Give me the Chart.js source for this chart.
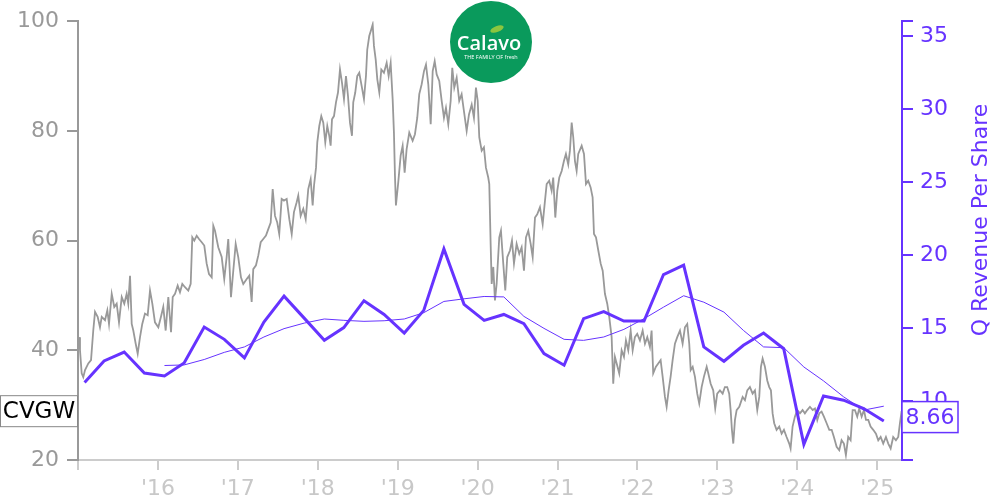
<!DOCTYPE html>
<html>
<head>
<meta charset="utf-8">
<title>CVGW</title>
<script src="https://cdn.jsdelivr.net/npm/chart.js@4.4.1/dist/chart.umd.min.js"></script>
<style>
  html, body { margin: 0; padding: 0; background: #fff; }
  #wrap { width: 1000px; height: 500px; }
</style>
</head>
<body>
<div id="wrap"><canvas id="chart" width="1000" height="500"></canvas></div>
<script>
// data
var ticker = 'CVGW';
var rightTitle = 'Q Revenue Per Share';
var lastRevLabel = '8.66';

var yearTicks = [2015, 2016, 2017, 2018, 2019, 2020, 2021, 2022, 2023, 2024, 2025];
var yearLabels = ['', "'16", "'17", "'18", "'19", "'20", "'21", "'22", "'23", "'24", "'25"];
var priceTicks = [20, 40, 60, 80, 100];
var revTicks = [6, 10, 15, 20, 25, 30, 35, 36];

// daily close, sampled (decimal year)
var priceDates = [
  2015.013,2015.025,2015.046,2015.066,2015.088,2015.129,2015.163,2015.191,2015.213,2015.246,2015.275,2015.297,2015.338,2015.367,2015.388,2015.422,2015.454,2015.484,2015.513,2015.547,2015.579,2015.609,2015.629,2015.651,2015.672,2015.692,2015.722,2015.747,2015.776,2015.804,2015.838,2015.872,2015.901,2015.930,2015.963,
  2016.005,2016.038,2016.067,2016.097,2016.130,2016.164,2016.185,2016.214,2016.247,2016.276,2016.305,2016.339,2016.380,2016.410,2016.430,2016.455,2016.485,2016.514,2016.548,2016.580,2016.610,2016.639,2016.673,2016.693,2016.714,2016.755,2016.798,2016.830,2016.860,2016.880,2016.914,2016.943,2016.973,
  2017.005,2017.039,2017.068,2017.111,2017.143,2017.173,2017.193,2017.227,2017.256,2017.286,2017.318,2017.352,2017.381,2017.411,2017.436,2017.465,2017.493,2017.518,2017.548,2017.577,2017.611,2017.644,2017.674,2017.702,2017.736,2017.756,2017.786,2017.819,2017.849,2017.881,2017.911,2017.936,2017.953,2017.978,2017.994,
  2018.019,2018.044,2018.069,2018.094,2018.119,2018.144,2018.161,2018.178,2018.203,2018.228,2018.253,2018.278,2018.303,2018.328,2018.353,2018.378,2018.403,2018.428,2018.444,2018.469,2018.494,2018.519,2018.549,2018.578,2018.603,2018.619,2018.644,2018.669,2018.687,2018.703,2018.725,2018.745,2018.770,2018.795,2018.828,2018.862,2018.887,2018.912,2018.937,2018.953,2018.966,2018.978,
  2019.007,2019.037,2019.062,2019.087,2019.112,2019.145,2019.187,2019.216,2019.245,2019.270,2019.300,2019.329,2019.354,2019.383,2019.413,2019.438,2019.463,2019.488,2019.520,2019.550,2019.579,2019.604,2019.633,2019.663,2019.683,2019.708,2019.738,2019.770,2019.800,2019.829,2019.863,2019.892,2019.926,2019.954,2019.979,
  2020.001,2020.021,2020.051,2020.079,2020.104,2020.133,2020.146,2020.163,2020.176,2020.196,2020.217,2020.238,2020.271,2020.292,2020.321,2020.346,2020.371,2020.405,2020.430,2020.455,2020.488,2020.521,2020.551,2020.580,2020.605,2020.634,2020.664,2020.689,2020.718,2020.746,2020.780,2020.814,2020.843,2020.864,2020.896,2020.926,2020.946,2020.972,2020.997,
  2021.022,2021.052,2021.080,2021.105,2021.134,2021.155,2021.177,2021.197,2021.218,2021.239,2021.259,2021.302,2021.331,2021.356,2021.384,2021.414,2021.439,2021.456,2021.481,2021.510,2021.540,2021.565,2021.593,2021.622,2021.647,2021.677,2021.697,2021.718,2021.740,2021.772,2021.802,2021.831,2021.856,2021.885,2021.915,2021.940,2021.968,2021.997,
  2022.031,2022.065,2022.094,2022.123,2022.156,2022.177,2022.197,2022.231,2022.260,2022.290,2022.315,2022.344,2022.365,2022.390,2022.415,2022.440,2022.469,2022.498,2022.532,2022.565,2022.594,2022.623,2022.648,2022.666,2022.691,2022.719,2022.748,2022.773,2022.803,2022.832,2022.866,2022.886,2022.916,2022.948,2022.973,2022.998,
  2023.032,2023.066,2023.094,2023.123,2023.148,2023.166,2023.182,2023.199,2023.220,2023.241,2023.274,2023.316,2023.345,2023.374,2023.407,2023.441,2023.470,2023.499,2023.524,2023.545,2023.566,2023.595,2023.624,2023.649,2023.670,2023.691,2023.711,2023.741,2023.774,2023.804,2023.833,2023.866,2023.899,2023.916,2023.941,2023.970,2023.999,
  2024.033,2024.066,2024.095,2024.124,2024.158,2024.192,2024.221,2024.250,2024.275,2024.304,2024.333,2024.367,2024.400,2024.430,2024.458,2024.492,2024.525,2024.554,2024.583,2024.608,2024.637,2024.667,2024.692,2024.721,2024.750,2024.775,2024.805,2024.834,2024.859,2024.888,2024.917,2024.950,2024.984,
  2025.013,2025.043,2025.075,2025.109,2025.138,2025.168,2025.200,2025.234,2025.263,2025.284,2025.305
];
var prices = [
  42.4,40.0,35.8,35.1,36.4,37.6,38.2,43.6,47.0,46.1,44.2,46.1,45.5,47.3,44.8,50.3,47.9,48.5,45.1,49.7,48.5,50.3,48.5,53.6,44.8,43.6,41.2,39.4,42.4,44.8,46.7,46.4,50.9,48.5,45.1,
  44.2,46.1,47.9,43.6,49.7,43.3,49.7,50.3,51.8,50.6,52.1,51.5,50.9,52.1,60.6,60.0,60.9,60.3,59.7,59.1,55.8,53.9,53.3,62.7,61.8,58.8,57.0,53.0,57.0,60.3,49.7,54.5,59.4,
  57.0,53.3,52.1,53.0,53.6,48.8,54.8,55.5,57.3,59.7,60.3,60.9,62.1,63.3,69.4,64.5,63.3,61.2,67.6,67.3,67.6,63.9,61.2,65.2,67.0,68.2,64.5,65.8,63.9,69.4,71.2,66.4,70.0,73.3,77.9,
  80.9,82.7,81.5,77.9,80.9,79.1,77.3,82.1,82.7,85.2,87.0,91.2,88.8,85.8,90.0,86.4,81.5,79.1,85.2,87.0,90.0,90.6,88.2,85.8,90.0,94.8,97.3,98.5,99.4,95.5,93.0,89.4,87.0,91.2,90.6,92.4,90.0,92.4,85.8,79.7,71.8,66.4,
  70.6,75.5,77.3,72.4,76.7,79.7,78.2,79.4,82.4,86.7,88.5,90.9,92.1,88.5,81.2,90.9,92.7,90.3,89.1,85.5,82.4,84.2,81.2,85.5,91.5,87.9,89.7,85.5,86.7,83.6,80.0,83.0,84.8,82.4,87.9,
  85.5,78.8,76.4,77.0,73.3,71.5,70.3,59.4,52.1,55.2,49.1,52.1,60.6,61.8,55.8,50.9,57.0,58.2,60.0,55.8,59.4,57.6,58.8,54.5,60.6,61.8,59.4,57.0,64.2,64.8,66.1,63.0,67.3,70.3,70.9,69.1,71.5,64.2,69.1,
  71.5,72.7,74.5,75.8,73.9,76.4,81.5,78.8,74.5,72.7,75.8,77.3,75.8,70.3,70.9,69.7,67.9,61.2,60.6,58.2,55.8,54.5,50.3,48.5,46.1,42.4,33.9,38.8,37.6,35.8,40.0,38.8,41.8,40.0,43.6,40.0,42.4,43.0,
  41.8,43.6,41.2,42.4,40.6,43.6,35.8,37.0,37.6,38.2,35.2,31.5,29.7,32.7,35.2,38.2,41.2,42.4,43.6,41.2,44.2,44.8,41.2,36.4,37.0,35.2,32.1,30.3,33.3,35.2,37.0,35.8,33.9,32.7,29.4,32.1,
  32.7,32.1,33.3,33.3,32.1,29.1,25.5,23.0,27.3,29.1,29.7,31.5,30.9,32.7,33.3,32.1,32.7,29.1,31.5,37.0,38.5,37.0,34.5,33.3,32.7,28.5,26.7,25.5,26.1,24.8,25.5,24.2,23.0,22.1,26.1,27.9,29.1,
  28.5,29.1,28.5,29.1,29.7,29.1,29.4,27.3,28.5,28.8,27.9,26.7,25.5,25.5,24.2,22.4,21.8,23.6,23.0,20.9,24.2,23.6,29.1,29.1,27.9,29.4,27.9,29.1,27.3,27.3,26.1,25.5,24.8,
  23.6,24.2,23.0,24.2,23.0,22.1,24.2,23.6,24.2,26.7,28.9
];

// fiscal quarter ends
var quarterDates = [
  '2015-01-31','2015-04-30','2015-07-31','2015-10-31',
  '2016-01-31','2016-04-30','2016-07-31','2016-10-31',
  '2017-01-31','2017-04-30','2017-07-31','2017-10-31',
  '2018-01-31','2018-04-30','2018-07-31','2018-10-31',
  '2019-01-31','2019-04-30','2019-07-31','2019-10-31',
  '2020-01-31','2020-04-30','2020-07-31','2020-10-31',
  '2021-01-31','2021-04-30','2021-07-31','2021-10-31',
  '2022-01-31','2022-04-30','2022-07-31','2022-10-31',
  '2023-01-31','2023-04-30','2023-07-31','2023-10-31',
  '2024-01-31','2024-04-30','2024-07-31','2024-10-31',
  '2025-01-31'
];
var revPerShare = [
  11.30,12.77,13.38,11.95,11.75,12.63,15.09,14.25,12.98,15.43,17.20,15.70,14.18,15.05,16.89,15.95,
  14.68,16.23,20.43,16.64,15.55,15.95,15.32,13.27,12.48,15.66,16.14,15.50,15.50,18.68,19.32,13.73,
  12.75,13.84,14.68,13.61,7.07,10.38,10.09,9.52,8.66
];
var revAvg = [
  null,null,null,null,
  12.46,12.50,12.87,13.36,13.73,14.41,14.98,15.36,15.64,15.55,15.48,15.52,15.64,16.07,16.84,17.02,
  17.18,17.15,15.82,15.00,14.25,14.18,14.41,14.93,15.66,16.45,17.23,16.79,16.11,14.86,13.73,13.68,
  12.36,11.41,10.32,9.41,9.68
];

var PURPLE = '#6633ff';
var FONT = '"DejaVu Sans", sans-serif';

function toYear(s) {
  var d = new Date(s + 'T00:00:00Z');
  var y = d.getUTCFullYear();
  return y + (d - Date.UTC(y, 0, 1)) / (Date.UTC(y + 1, 0, 1) - Date.UTC(y, 0, 1));
}

var priceData = priceDates.map(function (t, i) { return {x: t, y: prices[i]}; });
var revData = quarterDates.map(function (s, i) { return {x: toYear(s), y: revPerShare[i]}; });
var avgData = [];
quarterDates.forEach(function (s, i) {
  if (revAvg[i] !== null) avgData.push({x: toYear(s), y: revAvg[i]});
});

// labels, title, logo
var decorations = {
  id: 'decorations',
  afterDraw: function (chart) {
    var ctx = chart.ctx;
    var yL = chart.scales.y, yR = chart.scales.y2;
    ctx.save();

    // right axis title
    ctx.save();
    ctx.translate(981, 220);
    ctx.rotate(-Math.PI / 2);
    ctx.fillStyle = PURPLE;
    ctx.font = '22px ' + FONT;
    ctx.textAlign = 'center';
    ctx.textBaseline = 'middle';
    ctx.fillText(rightTitle, 0, 0);
    ctx.restore();

    // ticker box
    var py = yL.getPixelForValue(prices[prices.length - 1]);
    ctx.fillStyle = '#fff';
    ctx.fillRect(0.5, py - 15.5, 77, 31);
    ctx.strokeStyle = '#888';
    ctx.lineWidth = 1;
    ctx.strokeRect(0.5, py - 15.5, 77, 31);
    ctx.fillStyle = '#000';
    ctx.font = '23px ' + FONT;
    ctx.textAlign = 'center';
    ctx.textBaseline = 'middle';
    ctx.fillText(ticker, 39, py + 1);

    // last revenue box
    var ry = yR.getPixelForValue(revPerShare[revPerShare.length - 1]) - 4;
    ctx.fillStyle = '#fff';
    ctx.fillRect(902, ry - 15.5, 56, 31);
    ctx.strokeStyle = PURPLE;
    ctx.lineWidth = 1.5;
    ctx.strokeRect(902, ry - 15.5, 56, 31);
    ctx.fillStyle = PURPLE;
    ctx.font = '22px ' + FONT;
    ctx.fillText(lastRevLabel, 930, ry + 1);

    // logo
    ctx.beginPath();
    ctx.arc(491, 42, 41, 0, Math.PI * 2);
    ctx.fillStyle = '#0a9a5c';
    ctx.fill();
    ctx.save();
    ctx.translate(497, 29);
    ctx.rotate(-0.35);
    ctx.beginPath();
    ctx.ellipse(0, 0, 7, 3, 0, 0, Math.PI * 2);
    ctx.fillStyle = '#8cc63f';
    ctx.fill();
    ctx.restore();
    ctx.fillStyle = '#fff';
    ctx.font = '600 20px "Open Sans", sans-serif';
    ctx.fillText('Calavo', 489, 44);
    ctx.font = '5.5px "Open Sans", sans-serif';
    ctx.fillText('THE FAMILY OF fresh', 491, 57);

    ctx.restore();
  }
};

var config = {
  type: 'line',
  data: {
    datasets: [{
      label: 'Q Revenue Per Share',
      data: revData,
      yAxisID: 'y2',
      borderColor: PURPLE,
      borderWidth: 3,
      pointRadius: 0,
      tension: 0
    }, {
      label: 'Average',
      data: avgData,
      yAxisID: 'y2',
      borderColor: PURPLE,
      borderWidth: 1,
      pointRadius: 0,
      tension: 0
    }, {
      label: ticker,
      data: priceData,
      yAxisID: 'y',
      borderColor: '#999999',
      borderWidth: 1.8,
      pointRadius: 0,
      tension: 0
    }]
  },
  options: {
    responsive: false,
    animation: false,
    devicePixelRatio: 1,
    layout: { padding: { top: 20, left: 0, right: 0, bottom: 0 } },
    plugins: { legend: { display: false }, tooltip: { enabled: false } },
    scales: {
      x: {
        type: 'linear',
        min: 2015,
        max: 2025.31,
        afterBuildTicks: function (s) { s.ticks = yearTicks.map(function (v) { return {value: v}; }); },
        afterFit: function (s) { s.height = 40; },
        border: { color: '#cccccc', width: 2 },
        grid: { drawOnChartArea: false, drawTicks: true, tickLength: 10, color: '#cccccc', lineWidth: 2 },
        ticks: {
          color: '#c8c8c8', font: { family: FONT, size: 22 }, padding: 6,
          maxRotation: 0, autoSkip: false,
          callback: function (v) { var i = yearTicks.indexOf(v); return i < 0 ? '' : yearLabels[i]; }
        }
      },
      y: {
        position: 'left',
        min: 20,
        max: 100,
        afterBuildTicks: function (s) { s.ticks = priceTicks.map(function (v) { return {value: v}; }); },
        afterFit: function (s) { s.width = 78; },
        border: { color: '#999999', width: 2 },
        grid: { drawOnChartArea: false, drawTicks: true, tickLength: 11, color: '#999999', lineWidth: 2 },
        ticks: { color: '#999999', font: { family: FONT, size: 22 }, padding: 8 }
      },
      y2: {
        position: 'right',
        min: 6,
        max: 36,
        afterBuildTicks: function (s) { s.ticks = revTicks.map(function (v) { return {value: v}; }); },
        afterFit: function (s) { s.width = 98; },
        border: { color: PURPLE, width: 2 },
        grid: { drawOnChartArea: false, drawTicks: true, tickLength: 11, color: PURPLE, lineWidth: 2 },
        ticks: {
          color: PURPLE, font: { family: FONT, size: 22 }, padding: 7,
          callback: function (v) { return (v === 6 || v === 36) ? '' : v; }
        }
      }
    }
  },
  plugins: [decorations]
};

var myChart = new Chart(document.getElementById('chart'), config);
</script>
</body>
</html>
